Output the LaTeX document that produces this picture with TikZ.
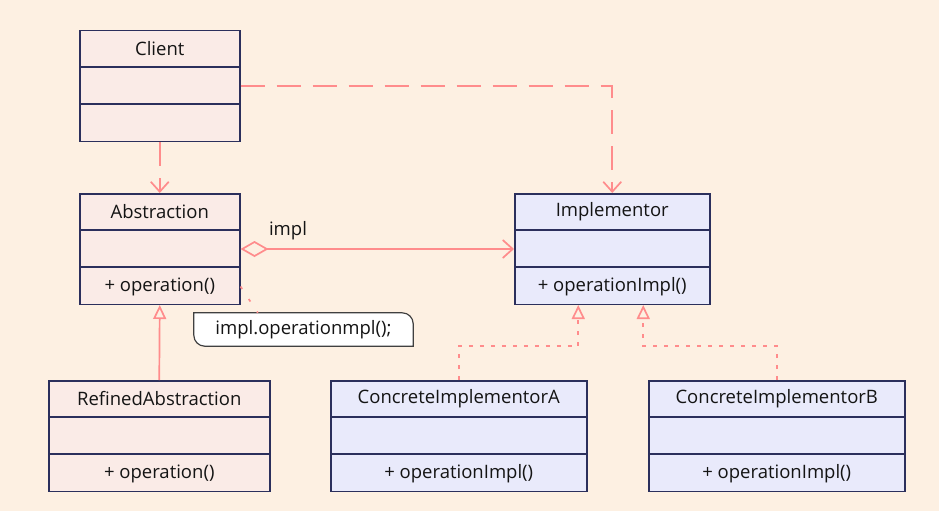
\documentclass[tikz,border=0pt]{standalone}
\usepackage{fontspec}
\setmainfont{Open Sans}
\usetikzlibrary{arrows.meta,calc}
\definecolor{bg}{RGB}{253,240,226}
\definecolor{pinkfill}{RGB}{250,235,231}
\definecolor{bluefill}{RGB}{233,234,251}
\definecolor{border}{RGB}{43,47,92}
\definecolor{linec}{RGB}{255,140,140}
\definecolor{txt}{RGB}{20,20,20}
\definecolor{notebd}{RGB}{64,64,64}
\newcommand{\umlclass}[6]{% name, x, y, w, fill, title
  \node[classbox, fill=#5, minimum width=#4pt] (#1) at (#2,#3) {};
  \draw[divider] ($(#1.north west)+(0,37)$) -- ($(#1.north east)+(0,37)$);
  \draw[divider] ($(#1.north west)+(0,74)$) -- ($(#1.north east)+(0,74)$);
  \node[lbl] (#1-title) at ($(#1.north)+(0,18.5)$) {#6};
}
\begin{document}
\begin{tikzpicture}[x=1pt,y=-1pt,
  font=\fontsize{18.5}{22}\selectfont,
  classbox/.style={draw=border, line width=1.5pt, inner sep=0pt, anchor=north west, minimum height=110.5pt},
  divider/.style={draw=border, line width=1.5pt},
  lbl/.style={text=txt, inner sep=0pt},
  conn/.style={draw=linec, line width=1.7pt},
  dep/.style={conn, dash pattern=on 24pt off 12pt, -{Straight Barb[length=10pt,width=18pt]}},
  gen/.style={conn, -{Triangle[open,length=14pt,width=13pt]}},
  real/.style={conn, dash pattern=on 4pt off 7pt, -{Triangle[open,length=14pt,width=13pt]}},
  notelink/.style={conn, dash pattern=on 3pt off 12pt},
  notebox/.style={draw=notebd, line width=1.2pt, fill=white}
]
\fill[bg] (0,0) rectangle (939,511);
\useasboundingbox (0,0) rectangle (939,511);

\umlclass{client}{79}{30}{160}{pinkfill}{Client}
\umlclass{abs}{79}{193}{160}{pinkfill}{Abstraction}
\umlclass{refined}{48}{380}{221}{pinkfill}{RefinedAbstraction}
\umlclass{impl}{514}{193}{195}{bluefill}{Implementor}
\umlclass{cia}{330}{380}{256}{bluefill}{ConcreteImplementorA}
\umlclass{cib}{648}{380}{256}{bluefill}{ConcreteImplementorB}

\node[lbl] (abs-op) at ($(abs.south)+(0,-18.5)$) {+ operation()};
\node[lbl] (refined-op) at ($(refined.south)+(0,-18.5)$) {+ operation()};
\node[lbl] (impl-op) at ($(impl.south)+(0,-18.5)$) {+ operationImpl()};
\node[lbl] (cia-op) at ($(cia.south)+(0,-18.5)$) {+ operationImpl()};
\node[lbl] (cib-op) at ($(cib.south)+(0,-18.5)$) {+ operationImpl()};

% dependencies
\draw[dep] (client.south) -- (abs.north);
\draw[dep] (client.east) -| (impl.north);

% aggregation
\draw[conn, {Diamond[open,length=28pt,width=16pt]}-{Straight Barb[length=10pt,width=18pt]}] (abs.east) -- (impl.west);
\node[lbl] (impllbl) at (288,231) {impl};

% generalization
\draw[gen] (refined.north) -- (abs.south);

% realizations
\coordinate (implA) at ($(impl.south)+(-34,0)$);
\coordinate (implB) at ($(impl.south)+(31,0)$);
\draw[real] (cia.north) -- ++(0,-34) -| (implA);
\draw[real] (cib.north) -- ++(0,-34) -| (implB);

% note
\node[lbl, minimum width=219pt, minimum height=33pt] (note) at (303.5,329.5) {};
\draw[notebox] (note.north west) -- ($(note.north east)+(-11,0)$)
  arc[start angle=90, end angle=0, radius=11pt] -- (note.south east)
  -- ($(note.south west)+(11,0)$) arc[start angle=270, end angle=180, radius=11pt] -- cycle;
\node[lbl] (notetext) at (note.center) {impl.operationmpl();};
\coordinate (absop) at (abs.east |- abs-op);
\coordinate (notetop) at ($(note.north west)+(64,0)$);
\draw[notelink] (absop) -- (notetop);
\end{tikzpicture}
\end{document}
